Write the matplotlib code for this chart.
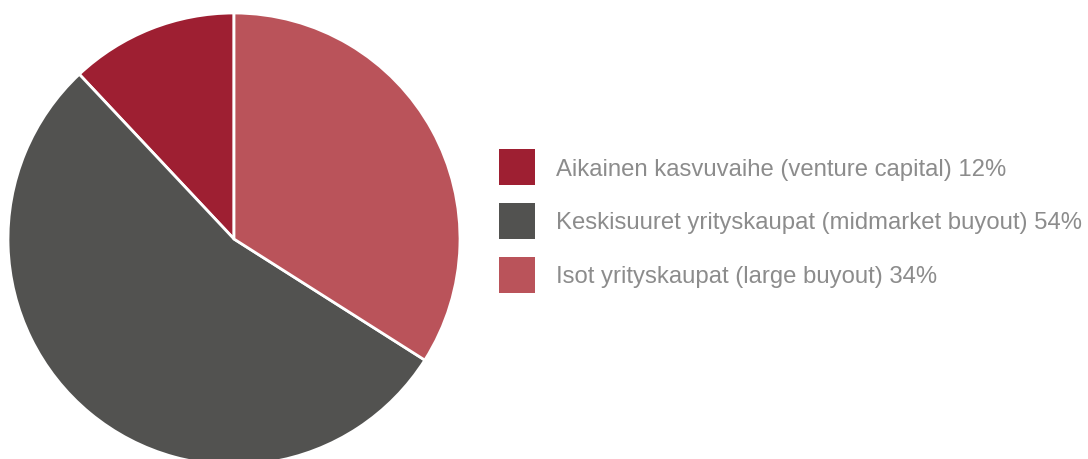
import matplotlib
matplotlib.use("Agg")
import matplotlib.pyplot as plt

categories = ["Aikainen kasvuvaihe (venture capital)",
              "Keskisuuret yrityskaupat (midmarket buyout)",
              "Isot yrityskaupat (large buyout)"]
values = [12, 54, 34]
colors = ["#9E1F32", "#525250", "#BA535A"]

plt.rcParams['font.family'] = ['Liberation Sans', 'DejaVu Sans']

W, H = 1088, 460
fig = plt.figure(figsize=(W / 100, H / 100), dpi=100)
ax = fig.add_axes([0, 0, 1, 1])

wedges, _ = ax.pie(values, colors=colors, startangle=90, counterclock=True,
                   center=(234, H - 240), radius=226,
                   wedgeprops=dict(edgecolor='white', linewidth=2),
                   frame=True)
ax.set_xlim(0, W)
ax.set_ylim(0, H)
ax.set_aspect('equal')
ax.axis('off')

labels = [f"{c} {v}%" for c, v in zip(categories, values)]
fs = 17.2
leg = ax.legend(wedges, labels, loc='upper left',
                bbox_to_anchor=(499 / W, 1 - 150 / H), bbox_transform=fig.transFigure,
                frameon=False, fontsize=fs, borderpad=0, borderaxespad=0,
                handlelength=1.507, handleheight=1.94, handletextpad=0.88,
                labelspacing=0.745, labelcolor='#8C8C8C')
for h in leg.legend_handles:
    h.set_edgecolor('none')

fig.savefig("out.png", dpi=100)
